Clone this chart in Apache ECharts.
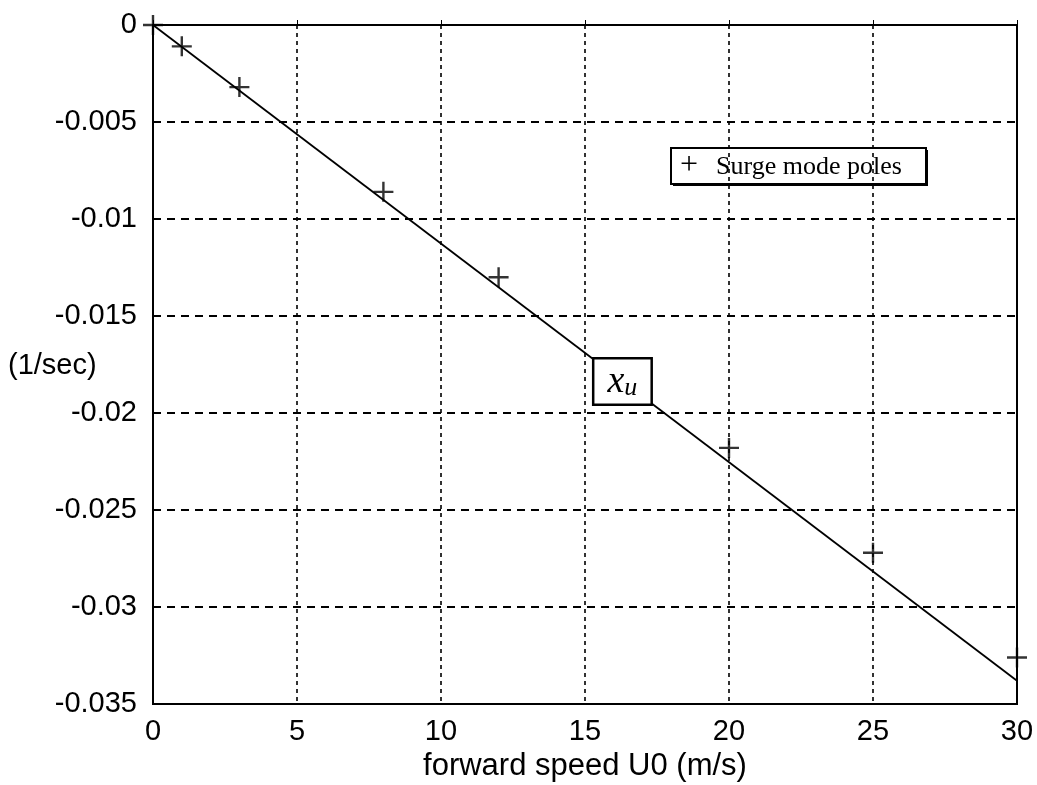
<!DOCTYPE html>
<html>
<head>
<meta charset="utf-8">
<script src="https://cdn.jsdelivr.net/npm/echarts@6/dist/echarts.min.js"></script>
<style>
html,body{margin:0;padding:0;background:#fff;}
#chart{width:1037px;height:785px;}
</style>
</head>
<body>
<div id="chart"></div>
<script>
// Data
const speeds = [0, 1, 3, 8, 12, 20, 25, 30];
const poles = [0, -0.0011, -0.0032, -0.0086, -0.0130, -0.0218, -0.0272, -0.0326];
const fitSpeeds = [0, 30];
const fitValues = [0, -0.0338];
const xuLabelAt = [16.3, -0.01837];
const xTicks = [0, 5, 10, 15, 20, 25, 30];
const yTicks = [0, -0.005, -0.01, -0.015, -0.02, -0.025, -0.03, -0.035];

const plusPath = 'path://M-1.2,-10 L1.2,-10 L1.2,-1.2 L10,-1.2 L10,1.2 L1.2,1.2 L1.2,10 L-1.2,10 L-1.2,1.2 L-10,1.2 L-10,-1.2 L-1.2,-1.2 Z';
const sans = 'Liberation Sans, Arial, sans-serif';
const serif = 'Liberation Serif, Times New Roman, serif';

const chart = echarts.init(document.getElementById('chart'), null, {renderer: 'canvas'});
chart.setOption({
  backgroundColor: '#fff',
  animation: false,
  grid: {left: 153, right: 20, top: 25, bottom: 81, containLabel: false, outerBoundsMode: 'none',
    show: true, borderColor: '#000', borderWidth: 2, backgroundColor: 'transparent'},
  xAxis: {
    type: 'value', min: xTicks[0], max: xTicks[xTicks.length - 1], interval: 5,
    name: 'forward speed U0 (m/s)', nameLocation: 'middle', nameGap: 46,
    nameTextStyle: {fontFamily: sans, fontSize: 31, color: '#000'},
    axisLine: {show: true, lineStyle: {color: '#000', width: 2}},
    axisTick: {show: true, inside: true, length: 5, lineStyle: {color: '#000', width: 1}},
    axisLabel: {fontFamily: sans, fontSize: 29, color: '#000', margin: 13},
    splitLine: {show: true, lineStyle: {color: '#000', width: 1.6, type: [4, 4]}}
  },
  yAxis: {
    type: 'value', min: yTicks[yTicks.length - 1], max: yTicks[0], interval: 0.005,
    axisLine: {show: true, lineStyle: {color: '#000', width: 2}},
    axisTick: {show: true, inside: true, length: 5, lineStyle: {color: '#000', width: 1}},
    axisLabel: {fontFamily: sans, fontSize: 29, color: '#000', margin: 16,
      formatter: v => (Math.abs(v) < 1e-12 ? '0' : String(+v.toFixed(3)))},
    splitLine: {show: true, lineStyle: {color: '#000', width: 1.8, type: [8, 6]}}
  },
  graphic: [
    {type: 'text', left: 8, top: 351, style: {text: '(1/sec)', font: '29px ' + sans, fill: '#000'}},
    {type: 'group', left: 670, top: 147, children: [
      {type: 'rect', shape: {x: 2, y: 2, width: 255, height: 36}, style: {fill: '#000'}},
      {type: 'rect', shape: {x: 0, y: 0, width: 255, height: 36}, style: {fill: '#fff', stroke: '#000', lineWidth: 2}},
      {type: 'text', style: {x: 9, y: 18, text: '+', font: '32px ' + serif, fill: '#000', verticalAlign: 'middle'}},
      {type: 'text', style: {x: 45, y: 19, text: 'Surge mode poles', font: '26px ' + serif, fill: '#000', verticalAlign: 'middle'}}
    ]}
  ],
  series: [
    {
      type: 'line', data: fitSpeeds.map((s, i) => [s, fitValues[i]]),
      showSymbol: false, symbol: 'none', lineStyle: {color: '#000', width: 1.8}, z: 3,
      markPoint: {
        symbol: 'rect', symbolSize: 1, itemStyle: {color: 'transparent'},
        data: [{coord: xuLabelAt, value: 'xu'}],
        label: {
          show: true, position: 'inside',
          formatter: '{x|x}{u|u}',
          backgroundColor: '#fff', borderColor: '#000', borderWidth: 2.5,
          padding: [2, 8, 4, 8], width: 40, height: 38, align: 'center', verticalAlign: 'middle',
          rich: {
            x: {fontFamily: serif, fontStyle: 'italic', fontSize: 38, color: '#000', verticalAlign: 'bottom'},
            u: {fontFamily: serif, fontStyle: 'italic', fontSize: 26, color: '#000', verticalAlign: 'bottom', padding: [14, 0, 0, 0]}
          }
        },
        z: 5
      }
    },
    {
      type: 'scatter', data: speeds.map((s, i) => [s, poles[i]]),
      symbol: plusPath, symbolSize: 20, itemStyle: {color: '#000'}, z: 4
    }
  ]
});
</script>
</body>
</html>
